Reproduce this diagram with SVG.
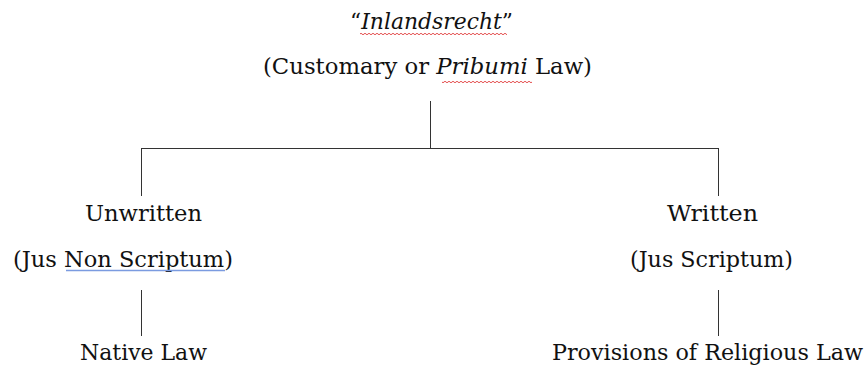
<svg xmlns="http://www.w3.org/2000/svg" width="867" height="369" viewBox="0 0 867 369">
  <defs>
    <pattern id="wave" x="0" y="0" width="4" height="4" patternUnits="userSpaceOnUse">
      <path d="M0,2 Q1,0.5 2,2 T4,2" fill="none" stroke="#e03a3a" stroke-width="0.9"/>
    </pattern>
  </defs>
  <style>
    text { font-family: "DejaVu Serif", "Liberation Serif", serif; font-size: 21.5px; fill: #111; }
    .it { font-style: italic; }
    .conn line { stroke: #333; stroke-width: 1; fill: none; }
  </style>
  <rect width="867" height="369" fill="#fff"/>

  <g id="connectors" class="conn">
    <line x1="430.5" y1="101" x2="430.5" y2="148.5"/>
    <line x1="141" y1="148.5" x2="719" y2="148.5"/>
    <line x1="141.5" y1="148.5" x2="141.5" y2="196"/>
    <line x1="718.5" y1="148.5" x2="718.5" y2="196"/>
    <line x1="141.5" y1="290" x2="141.5" y2="336"/>
    <line x1="718.5" y1="290" x2="718.5" y2="336"/>
  </g>

  <g id="root">
    <text x="350" y="29" textLength="163" lengthAdjust="spacingAndGlyphs">“<tspan class="it">Inlandsrecht</tspan>”</text>
    <rect x="360" y="32" width="147" height="3" fill="url(#wave)"/>
    <text x="263" y="74" textLength="329" lengthAdjust="spacingAndGlyphs">(Customary or <tspan class="it">Pribumi</tspan> Law)</text>
    <rect x="442" y="80" width="90" height="3" fill="url(#wave)"/>
  </g>

  <g id="unwritten">
    <text x="85" y="221" textLength="117" lengthAdjust="spacingAndGlyphs">Unwritten</text>
    <text x="13" y="267" textLength="220" lengthAdjust="spacingAndGlyphs">(Jus Non Scriptum)</text>
    <line x1="66" y1="270.5" x2="225" y2="270.5" stroke="#7b9be0" stroke-width="1.5"/>
  </g>

  <g id="written">
    <text x="667" y="221" textLength="91" lengthAdjust="spacingAndGlyphs">Written</text>
    <text x="630" y="267" textLength="163" lengthAdjust="spacingAndGlyphs">(Jus Scriptum)</text>
  </g>

  <g id="native-law">
    <text x="80" y="360" textLength="127" lengthAdjust="spacingAndGlyphs">Native Law</text>
  </g>

  <g id="religious-law">
    <text x="552" y="360" textLength="311" lengthAdjust="spacingAndGlyphs">Provisions of Religious Law</text>
  </g>
</svg>
